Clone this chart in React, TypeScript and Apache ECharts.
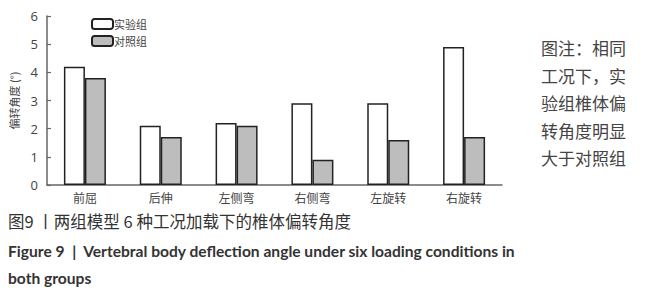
import React, { useEffect, useRef } from "react";
import * as echarts from "echarts";

const categories = ["前屈", "后伸", "左侧弯", "右侧弯", "左旋转", "右旋转"];
const experimental = [4.2, 2.1, 2.2, 2.9, 2.9, 4.9];
const control = [3.8, 1.7, 2.1, 0.9, 1.6, 1.7];
const seriesNames = ["实验组", "对照组"];
const yTicks = { min: 0, max: 6, interval: 1 };
const noteLines = ["图注：相同", "工况下，实", "验组椎体偏", "转角度明显", "大于对照组"];
const captionCn = "图9 丨两组模型 6 种工况加载下的椎体偏转角度";
const captionEn1 = "Figure 9  |  Vertebral body deflection angle under six loading conditions in";
const captionEn2 = "both groups";

const CJK = "'Noto Sans CJK SC', sans-serif";

export default function App() {
  const ref = useRef<HTMLDivElement>(null);
  useEffect(() => {
    if (!ref.current) return;
    const chart = echarts.init(ref.current, undefined, { renderer: "svg" });
    chart.setOption({
      animation: false,
      backgroundColor: "#ffffff",
      grid: { left: 44, top: 16, right: 154, bottom: 115, containLabel: false },
      legend: {
        left: 86,
        top: 13,
        orient: "vertical",
        itemWidth: 21,
        itemHeight: 10,
        itemGap: 5,
        textStyle: { fontFamily: CJK, fontSize: 11, lineHeight: 11, color: "#444", padding: [0, 0, 0, -4] },
        data: seriesNames,
      },
      xAxis: {
        type: "category",
        data: categories,
        axisLine: { lineStyle: { color: "#666", width: 1.5 } },
        axisTick: { show: false },
        axisLabel: { fontFamily: CJK, fontSize: 12, color: "#444", margin: 6 },
      },
      yAxis: {
        type: "value",
        min: yTicks.min,
        max: yTicks.max,
        interval: yTicks.interval,
        name: "偏转角度 (°)",
        nameLocation: "middle",
        nameGap: 28,
        nameRotate: 90,
        nameTextStyle: { fontFamily: CJK, fontSize: 11, color: "#444" },
        axisLine: { show: true, lineStyle: { color: "#666", width: 1.5 } },
        axisTick: { show: true, inside: true, length: 4, lineStyle: { color: "#666", width: 1.2 } },
        splitLine: { show: false },
        axisLabel: { fontFamily: "'Open Sans', sans-serif", fontSize: 13, color: "#444", margin: 9 },
      },
      series: [
        {
          name: seriesNames[0],
          type: "bar",
          data: experimental,
          barWidth: 21,
          barGap: "0%",
          itemStyle: { color: "#ffffff", borderColor: "#222", borderWidth: 1.5 },
        },
        {
          name: seriesNames[1],
          type: "bar",
          data: control,
          barWidth: 21,
          itemStyle: { color: "#bdbdbd", borderColor: "#222", borderWidth: 1.5 },
        },
      ],
      graphic: [
        ...noteLines.map((t, i) => ({
          type: "text",
          left: 541,
          top: 39 + i * 27.5,
          style: { text: t, font: `17px ${CJK}`, fill: "#444" },
        })),
        {
          type: "text",
          left: 8,
          top: 213,
          style: { text: captionCn, font: `16.5px ${CJK}`, fill: "#333" },
        },
        {
          type: "text",
          left: 8,
          top: 243,
          style: { text: captionEn1, font: `bold 15.6px Lato, sans-serif`, fill: "#333" },
        },
        {
          type: "text",
          left: 8,
          top: 270,
          style: { text: captionEn2, font: `bold 15.6px Lato, sans-serif`, fill: "#333" },
        },
      ],
    });
    return () => chart.dispose();
  }, []);
  return <div ref={ref} style={{ width: 656, height: 300, position: "absolute", left: 0, top: 0 }} />;
}
